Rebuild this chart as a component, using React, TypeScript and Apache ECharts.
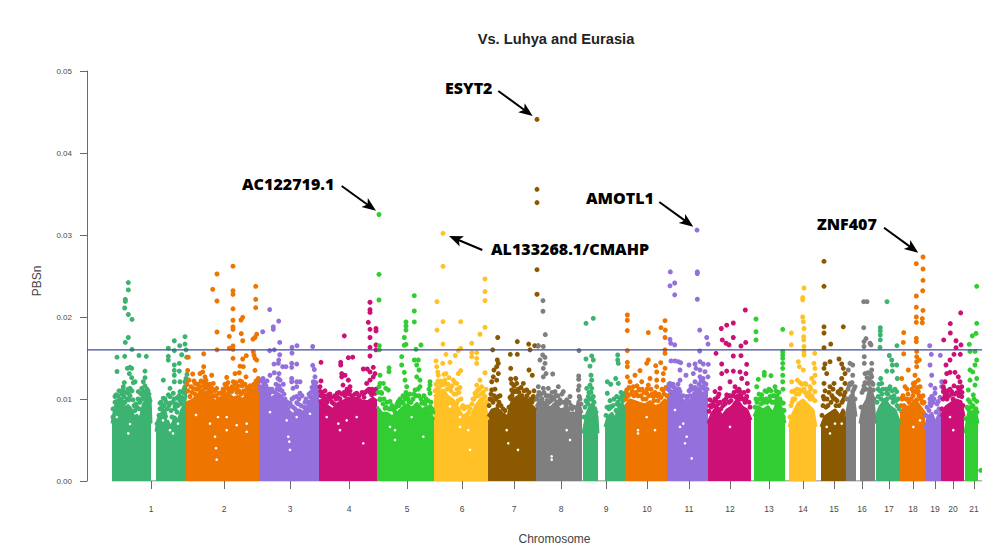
import React, { useEffect, useRef } from "react";
import * as echarts from "echarts";

// x = cumulative genome position (axis units), y = PBSn x 10^4.
type P = [number, number];

const chromosomeLabels = ["1","2","3","4","5","6","7","8","9","10","11","12","13","14","15","16","17","18","19","20","21"];
const chromosomeTicks = [151,224,290,349,407,462,514,561,606,647,689,730,769,803,834,862,889,913,935,953,974];
const threshold = 0.016;
const seagreen = "#3CB371", orange = "#EE7600", purple = "#9370DB", pink = "#CD1076", lime = "#32CD32", gold = "#FFC125", brown = "#8B5A00", gray = "#7F7F7F";

const chr1aMass: P[] = [[112,70],[115,90],[118,99],[122,100],[125,88],[128,92],[131,88],[134,78],[137,80],[140,75],[143,92],[146,100],[148,105],[150,102],[151,70]];
const chr1bMass: P[] = [[156,60],[158,75],[161,82],[165,85],[168,72],[171,65],[175,78],[178,72],[181,85],[184,92],[186,105]];
const chr1Dots: P[] = [[128.3,242],[128.3,233],[125.3,221.5],[125.3,219],[124.7,211],[128.3,203],[132,197],[128.3,175],[125.3,169],[132,160.5],[117,151],[124.7,152],[139,153],[146.3,152],[117,133.5],[130,138.6],[127.3,137.4],[131.7,137.4],[129.3,131],[131.7,126],[145,134],[145,126],[143.3,121],[133.3,120],[124.3,120],[123.3,115],[141.7,113],[138.3,109],[121.7,109],[115,103],[128.3,107],[135,121],[146,107],[116.7,97],[130,113],
[174.3,171],[168.3,162],[179.7,165],[185,176],[185,167],[174.3,159],[186,160],[181.7,154],[168.3,152],[168.3,147.5],[174.3,141.5],[179.3,143.5],[186.7,151],[174.3,135],[179.3,134],[174.3,129],[163.3,123],[174.3,121],[180,121],[185,121],[185,115],[170,113],[180,109],[173.3,107],[168.3,105],[185,107],[163.3,101],[176.7,101],[181.7,99],[160,95],[170,95],[175,91],
[113,78],[113,88],[115,96],[116,105],[118,104],[119,110],[120,100],[121,95],[122,106],[123,112],[124,103],[125,96],[126,108],[127,100],[128,112],[129,99],[130,104],[132,110],[133,99],[134,92],[135,86],[136,94],[137,90],[138,100],[139,88],[140,96],[141,106],[142,100],[143,110],[144,104],[145,116],[146,100],[147,112],[148,110],[149,106],[150,98],
[157,70],[159,80],[160,88],[161,96],[162,90],[163,86],[164,92],[165,100],[166,96],[167,88],[169,92],[170,103],[171,86],[172,78],[173,96],[174,100],[175,88],[176,94],[177,84],[178,92],[179,104],[180,98],[181,94],[182,102],[183,108],[184,112],[185,112],[186,125],[187,130]];
const chr2Mass: P[] = [[186,95],[193,99],[198,105],[203,107],[208,109],[213,99],[218,95],[223,105],[228,107],[233,101],[238,103],[243,99],[248,107],[253,109],[258,111],[259,110]];
const chr2Dots: P[] = [[217,252.4],[233,262],[212.7,233.7],[233,232],[233,227.6],[255.7,237.4],[217,219.5],[255.7,221.5],[255.7,211.4],[233,210],[242.7,199.6],[241,196.3],[233,196],[233,188],[233,185],[217,181.7],[241.3,179.7],[229.3,176.4],[256.7,179],[255,175],[253,173],[242.7,171],[233,164.6],[229.3,162],[233,160.5],[217,160],[253.3,157.7],[254,153.6],[203.7,155],[246.3,152.8],[233,149.6],[242.7,148.8],[255,149.6],[256.7,147.5],[188.3,151],[240,140],[243.3,139.4],[203.7,139.4],[255,135],[235,131],[239.3,132],[202.7,133],[187.7,135],[192.7,130.5],[200,131],[211.7,129],[246,127],[205,127],[226.7,126.4],[258.3,125],[233.3,121],[241.7,121],[195,119],[203.3,121],[213.3,119],[226,116],[253.3,117],[236.7,113],[208.3,115],[193.3,113],[216.7,113],[248.3,111],[258.3,115],[221.7,107],[231.7,109],[243.3,109],[200,107],
[187,118],[188,110],[189,123],[190,103],[191,115],[192,108],[194,122],[195,106],[196,112],[197,118],[198,112],[199,118],[200,115],[201,122],[202,110],[204,116],[205,113],[206,123],[207,118],[209,112],[210,118],[211,108],[212,113],[214,104],[215,110],[216,104],[218,100],[219,107],[220,100],[222,108],[223,112],[224,110],[225,118],[227,114],[228,120],[229,110],[230,112],[232,115],[234,112],[235,118],[236,120],[237,108],[238,116],[239,110],[240,122],[241,106],[242,116],[244,110],[245,118],[246,105],[247,114],[249,108],[250,116],[251,112],[252,110],[254,118],[255,112],[256,122],[257,116],[258,120]];
const chr3Mass: P[] = [[259,109],[263,117],[267,111],[270,103],[273,95],[277,107],[280,105],[283,99],[287,82.5],[290,84.5],[293,80.5],[297,86.6],[300,86.6],[303,82.5],[307,90.6],[310,97],[313,103],[317,113],[319,107]];
const chr3Dots: P[] = [[269.7,209],[278.7,195],[273.3,188],[273.3,185],[262.7,182],[279.7,169],[292,163],[297,165],[312.7,164],[269.7,159],[274.3,160],[292,156],[279.7,154],[278.7,147.5],[274,142.6],[278.3,143.5],[282.7,139.4],[286,139.4],[291.7,143.5],[296.7,142.6],[291.7,138.6],[312.7,141],[314.3,136],[274.3,132],[270,129],[279,131],[315,127],[280,123],[291.7,125],[291.7,121],[296.7,121],[300,121],[313.3,121],[263.3,121],[265,117],[283.3,118],[296.7,115],[316,115],[293,113],[280,111],[300,107],[296.7,103],[313.3,109],[271.7,109],[290,95],[296.7,95.5],[310,103],
[260,115],[261,122],[262,112],[263,125],[264,120],[265,110],[266,116],[267,122],[268,112],[269,106],[270,112],[271,100],[272,112],[274,102],[275,108],[276,118],[277,112],[278,125],[279,116],[280,112],[281,102],[282,110],[284,106],[285,100],[286,92],[287,96],[288,88],[289,94],[291,92],[292,100],[293,90],[294,102],[295,88],[298,94],[299,100],[301,92],[302,104],[304,90],[305,96],[306,100],[308,96],[309,106],[311,108],[312,114],[314,118],[315,112],[316,120],[318,112]];
const chr4Mass: P[] = [[319,99],[323,95],[328,91],[333,87],[338,95],[343,97],[348,101],[353,99],[358,95],[363,97],[368,97],[373,101],[377,97]];
const chr4Dots: P[] = [[370,218],[370,209],[370,205.6],[368.3,193.5],[370,185],[376,186],[376,183],[344.3,177],[370,175],[370,163],[376,166],[376,160],[352.7,151],[348.3,150.4],[370,152.4],[321,144.7],[340.7,144.7],[340.7,141.5],[363.3,136.6],[367.3,136.6],[373.3,138.6],[370,133],[341.7,131],[345,129],[341.7,127],[375,131],[348.3,123],[321,122],[373.3,127],[370,123],[366.7,119],[350,115],[343,117],[320.7,109],[328.3,105],[337.3,107],[331.7,102],[346.7,109],[356.7,107],[363.3,106],[371.7,105],[375,107],[323.3,99],[350,99],
[320,115],[321,104],[322,108],[324,104],[325,110],[326,100],[327,96],[329,100],[330,106],[332,96],[334,94],[335,104],[336,100],[338,102],[339,108],[340,100],[342,106],[344,108],[345,104],[347,112],[349,106],[350,110],[352,104],[354,100],[355,106],[357,100],[359,104],[360,98],[362,108],[364,102],[365,108],[367,110],[369,112],[370,108],[372,112],[374,108],[376,112]];
const chr5Mass: P[] = [[377,90.6],[382,82.5],[387,82.5],[392,78.5],[397,82.5],[402,88.6],[407,92.7],[412,88.6],[417,94.7],[422,86.6],[427,90.6],[430,82.5],[434,74.4]];
const chr5Dots: P[] = [[379,325],[379,252],[379,220.7],[414.3,226],[414.3,207.3],[414.3,194],[406,194],[406,189],[406,184],[404.3,175],[406,166.7],[404.3,165.5],[421,165.9],[379.3,165],[379.3,160],[416,160.6],[401.7,151.6],[401.7,141.5],[414.3,147.6],[418.3,147.6],[416.7,141.5],[419,135.4],[389,138],[389,133.3],[404.3,132.5],[380,129],[416.7,127],[420,123],[405,123],[430,121],[383.3,119],[380,119],[430,117],[406.7,115],[385.7,113],[420,115],[415,111],[388.3,111],[381.7,107],[430,107],[407,103],[380,99],[398.3,97],[390,97],[421.7,95],[403.3,94.7],[393.3,87.4],[385,88.6],[430,90.6],
[378,108],[379,115],[380,100],[381,108],[383,94],[384,100],[386,90],[387,96],[389,88],[391,88],[392,92],[394,88],[395,84],[396,90],[397,94],[399,92],[400,100],[402,96],[403,104],[405,100],[406,108],[408,100],[409,96],[410,106],[411,96],[413,100],[414,106],[416,104],[418,112],[419,104],[421,100],[423,96],[424,104],[425,94],[426,100],[428,98],[429,112],[431,96],[432,88],[433,84]];
const chr6Mass: P[] = [[434,103],[438,107],[443,111],[448,103],[453,99],[458,88.6],[463,78.5],[467,82.5],[470,74.4],[475,90.6],[480,99],[485,92.7],[488,74.4]];
const chr6Dots: P[] = [[443,302],[443,261.8],[485,246.4],[485,231],[485,220],[437,218.7],[443,194.3],[460.7,194.3],[485,187.4],[437,184],[480,179],[443,167],[471.7,168],[460.7,161.8],[458.3,159],[471.7,156.5],[476.7,156.5],[446,154.5],[455.3,153],[471.7,151.6],[476.7,149.6],[436,146.4],[450,144.7],[442.7,143.5],[476.7,143.5],[436.7,139.4],[437.7,133],[460.7,134.6],[485,132],[458.3,131],[446,131],[438.3,129],[480,123],[453.3,123],[445,123],[456.7,119],[441.7,117],[476.7,117],[460,114],[438.3,111],[450,113],[481.7,115],[485,103],[475,107],[468.3,90.6],[456.7,94.7],
[435,110],[436,118],[437,112],[438,122],[439,114],[440,120],[441,122],[443,118],[444,130],[445,118],[447,112],[448,118],[449,126],[451,110],[452,116],[454,106],[455,120],[456,106],[457,112],[458,98],[459,108],[461,100],[462,90],[463,92],[464,88],[466,90],[469,84],[470,88],[472,94],[473,100],[474,100],[476,104],[477,110],[478,104],[479,112],[481,106],[482,100],[483,108],[484,100],[486,112],[487,96]];
const chr7Mass: P[] = [[488,78.5],[492,86.6],[497,88.6],[502,82.5],[507,70],[510,90.6],[513,99],[518,103],[523,99],[528,92.7],[533,90.6],[536,86.6]];
const chr7Dots: P[] = [[537,441],[537,355.7],[537,339.5],[537,257.7],[537,227.7],[497.7,175],[517.3,170],[528.7,167],[534.7,165],[538,164.6],[492.7,160],[530,160],[497.3,147.6],[498.3,143.5],[510.3,154.5],[517.3,154.5],[496.7,139.4],[494,135.4],[510.7,137.4],[529,135.4],[498.3,131],[493.3,127],[510.7,124.4],[515.7,125],[532.3,129],[491.7,121],[496.7,123],[511.7,119],[516.7,119],[523.3,119],[491.7,111],[498.3,103],[516.7,109],[526.7,111],[520,103],[533.3,103],[491.7,99],[511.7,111],[530,95],
[489,92],[490,100],[491,106],[493,96],[494,104],[495,112],[496,100],[498,92],[499,96],[500,104],[501,92],[503,88],[504,80],[505,86],[506,78],[508,76],[509,90],[510,102],[511,100],[512,104],[513,108],[514,116],[515,110],[517,100],[518,112],[519,108],[521,114],[522,104],[524,110],[525,100],[527,104],[528,98],[529,108],[531,100],[532,96],[534,110],[535,100]];
const chr8Mass: P[] = [[536,90.6],[540,99],[545,94.7],[550,88.6],[555,94.7],[560,86.6],[565,88.6],[570,82.5],[575,74.4],[578,96.8],[582,82.5]];
const chr8Dots: P[] = [[543,220],[543,207],[545.3,178.5],[538.3,165],[543.3,164],[542.7,153.7],[545,150.8],[540,147.6],[545,143.5],[543.3,137.4],[546,131],[552.7,130.5],[543.3,127],[578.7,128],[578.7,124],[538.3,115],[543.3,113],[548.3,113],[558.3,115],[555,109],[563.3,109],[570,103],[578.3,111],[540,105],[550,103],[566.7,99],[579.3,103],[560,99],[579,159],
[537,100],[538,104],[539,108],[541,106],[542,100],[544,108],[546,104],[547,98],[548,104],[549,96],[551,98],[552,108],[553,102],[554,100],[556,104],[557,96],[558,104],[559,94],[561,96],[562,106],[564,96],[566,92],[567,96],[568,88],[569,96],[571,92],[572,88],[573,82],[574,90],[576,80],[577,88],[579,116],[580,100],[581,94]];
const chr9aMass: P[] = [[583,58],[587,82.5],[590,90.6],[593,94.7],[597,78.5],[598,58]];
const chr9bMass: P[] = [[605,66],[608,78.5],[612,82.5],[615,74.4],[618,86.6],[622,94.7],[625,86.6]];
const chr9Dots: P[] = [[593.3,198.4],[586,192.3],[591.7,152.5],[593.3,147.6],[586,148.8],[590,140],[591,129],[591.7,123],[590,117],[586.7,113],[591.7,113],[588.3,103],[593.3,103],[617.7,153.7],[617.7,147.6],[618.3,143.5],[615.7,125],[607.3,121],[610.7,118],[618.3,119],[625,107],[607.3,107],[616.7,103],[621.7,103],[610,90.6],
[584,78],[585,90],[586,98],[587,96],[588,94],[589,108],[590,100],[591,108],[592,100],[594,96],[595,88],[596,84],[606,80],[607,90],[609,88],[610,98],[611,90],[613,92],[614,100],[616,86],[617,94],[618,96],[619,92],[620,100],[621,108],[623,98],[624,104]];
const chr10Mass: P[] = [[625,90.6],[630,99],[635,96.8],[640,94.7],[645,92.7],[650,96.8],[655,90.6],[660,92.7],[665,99],[668,94.7]];
const chr10Dots: P[] = [[627.3,202.4],[627.3,196],[627.3,183.4],[648.3,181],[661,187],[665,195.5],[665.3,184],[665,175],[627.3,159],[665,160],[665,155.7],[648.3,147.6],[627.3,144.7],[627.3,139.4],[655.7,140.6],[646.7,143.5],[660.7,144.3],[665,137.4],[656.7,133],[640,134.6],[663.3,131],[627.3,127],[650,125],[635,129],[656.7,123],[663.3,123],[630,121],[641.7,121],[648.3,117],[633.3,115],[656.7,115],[640,111],[663.3,111],[646.7,107],[626.7,111],[653.3,103],
[626,100],[627,106],[628,104],[629,114],[631,106],[632,110],[634,104],[636,108],[637,116],[638,104],[639,112],[641,104],[642,112],[643,100],[644,108],[646,100],[647,112],[649,104],[651,112],[652,106],[654,98],[655,108],[657,104],[658,98],[659,106],[661,102],[662,112],[664,106],[666,114],[667,104]];
const chr11Mass: P[] = [[667,103],[672,109],[677,109],[682,99],[685,78.5],[688,95],[692,101],[697,105],[702,107],[708,109]];
const chr11Dots: P[] = [[697,306],[670.3,255],[697.3,255],[697.3,253],[674.7,241.5],[670,238],[674.7,227],[697.3,221.6],[699.7,184],[670,172.8],[706.7,175],[670.7,168],[674.7,166],[708,167],[699.7,158.5],[671,146.4],[675,146.4],[678.3,145.5],[680.7,144.3],[689,141.5],[695,142.7],[700,145.5],[703.3,142.7],[708.3,142.3],[680,135.4],[696,137.4],[700,135.4],[705,133.3],[686,129],[693.3,131],[680,123],[700,127],[703,125],[708,127],[670,119],[695,121],[701.7,115],[690,111],[686.7,103],[680,109],[683,97],
[668,112],[669,118],[670,110],[671,116],[673,118],[674,114],[675,106],[676,112],[678,118],[679,112],[681,104],[683,104],[684,88],[685,96],[686,92],[687,100],[689,110],[690,104],[691,116],[693,112],[694,106],[695,114],[696,108],[698,112],[699,118],[700,110],[701,122],[703,114],[704,120],[705,112],[706,118],[707,112]];
const chr12Mass: P[] = [[708,70],[712,82.5],[717,90.6],[722,78.5],[727,86.6],[732,90.6],[737,98.8],[742,90.6],[747,86.6],[751,74.4]];
const chr12Dots: P[] = [[745.3,208.5],[733.3,192.7],[726.7,190],[721.3,186],[733.3,175],[722.3,172],[745.7,169],[726,168],[729,166],[741,164.6],[716,155.7],[733.3,152.4],[741,152.8],[721.7,142.7],[746.7,142.3],[726.7,134],[733.3,134],[721.7,131],[740,133],[746,131],[730,121],[741.7,125],[747.3,119],[720,113],[735,115],[740,109],[715,109],[726.7,105],[746.7,103],[710,99],[718,103],
[709,85],[710,92],[711,90],[713,96],[714,92],[715,100],[716,98],[718,94],[719,106],[720,96],[721,88],[723,92],[724,98],[725,94],[726,100],[728,104],[729,96],[730,104],[731,98],[733,104],[734,108],[736,102],[737,110],[738,104],[739,112],[740,100],[741,104],[743,100],[744,108],[745,96],[746,100],[748,110],[749,96],[750,90]];
const chr13Mass: P[] = [[754,78.5],[758,90.6],[763,86.6],[768,90.6],[773,82.5],[778,99],[782,86.6],[785,70.3]];
const chr13Dots: P[] = [[756,197.6],[756,182],[756,172],[782.7,185],[782.7,158],[782.7,153.7],[782.7,149.6],[782.7,143.5],[782.7,137.4],[782.7,129],[764.3,132.5],[771,128.5],[758.3,124],[764.3,129],[782.7,121],[766.7,109],[775,115],[756.7,115],[761.7,105],[770,103],[776.7,99],[783.3,95],[783.3,78],[763,99],
[755,90],[756,100],[757,96],[759,106],[760,100],[761,94],[762,100],[764,96],[765,110],[766,100],[767,96],[769,112],[770,98],[771,110],[772,96],[773,104],[774,96],[775,104],[776,110],[777,104],[779,108],[780,100],[781,96],[783,112],[784,86]];
const chr14Mass: P[] = [[789,66],[793,82.5],[798,94.7],[803,98.8],[808,92.7],[813,86.6],[816,66]];
const chr14Dots: P[] = [[804,235.4],[802.7,223.6],[802.7,221],[802.7,200],[803.3,194.3],[804,186],[791.3,180.5],[803.7,176],[803.7,172],[791.3,166],[804,164],[804,158],[804,153.7],[814.7,155.7],[798.3,145.5],[814,143.5],[799.3,139.4],[803.3,135.4],[815,137.4],[815,129],[811.7,125],[791.7,121],[797.3,123],[805,119],[810,115],[791.7,109],[800,111],[815,109],[808.3,103],[793.3,99],
[790,78],[791,92],[792,96],[793,100],[794,110],[795,100],[796,106],[797,112],[799,106],[800,120],[801,110],[802,118],[804,112],[805,108],[806,118],[807,104],[809,108],[810,100],[811,112],[812,104],[813,100],[814,120],[815,98]];
const chr15Mass: P[] = [[821,66],[825,78.5],[830,82.5],[835,86.6],[840,78.5],[843,86.6],[846,78.5]];
const chr15Dots: P[] = [[824,267.9],[824,237.4],[824,188],[843.3,188],[824,180.5],[830.7,167],[824,162.6],[830,145.5],[825,142.7],[839,148.8],[841.7,142.7],[824,137.4],[843.3,137.4],[845,131],[826.7,131],[834,119],[841.7,125],[824,119],[830,115],[838.3,109],[845,119],[823.3,103],[833.3,101],[843.3,99],
[822,80],[823,92],[824,100],[825,110],[826,90],[827,100],[828,92],[829,108],[831,96],[832,104],[833,112],[835,100],[836,92],[837,98],[838,108],[839,92],[840,106],[841,112],[842,96],[844,104],[845,108]];
const chr16aMass: P[] = [[846,78.5],[850,103],[853,107],[856,78.5]];
const chr16bMass: P[] = [[860,70],[863,90.6],[867,99],[870,115],[873,103],[875,70]];
const chr16Dots: P[] = [[863.7,218.7],[867,218.7],[863.7,187],[866,173.6],[864,170],[870,168],[864,164],[871,166],[864.3,151.6],[871.7,143.5],[864.3,143.5],[871.7,135.4],[871.7,127],[850,143.5],[852.7,141.5],[848.3,135.4],[852.7,129],[850,119],[855,115],[852.7,109],[865,131],[868.3,119],[873.3,111],[863.3,111],
[847,100],[848,112],[849,116],[851,118],[852,120],[854,112],[855,100],[861,90],[862,108],[864,116],[865,120],[866,112],[867,126],[868,132],[869,124],[871,130],[872,120],[873,118],[874,100]];
const chr17Mass: P[] = [[876,78.5],[880,90.6],[885,98.8],[890,90.6],[895,86.6],[900,70]];
const chr17Dots: P[] = [[887,218.7],[880.3,187],[880.3,183],[880.3,178],[880.3,172],[880,163],[897,165],[889.3,153],[891.7,147.6],[892.3,141.5],[896.7,141.5],[886.7,134],[892.3,134],[897.3,125],[880.7,125],[881.7,119],[890,115],[886.7,107],[896.7,109],[878.3,103],[893.3,101],
[877,96],[878,112],[879,118],[880,110],[881,100],[882,106],[883,112],[884,98],[886,112],[887,100],[888,106],[889,112],[891,102],[892,110],[893,96],[894,104],[895,112],[896,98],[897,92],[898,100],[899,88]];
const chr18Mass: P[] = [[900,82.5],[905,90.6],[910,90.6],[915,98.8],[920,90.6],[925,82.5]];
const chr18Dots: P[] = [[923,273.2],[916.3,265],[923,258.5],[923,244.7],[922.7,232],[916.3,225.6],[916.3,212],[923,208],[916.3,200],[922.3,198],[916.3,193.5],[922.3,193],[903.7,181],[916.3,174],[916.3,170],[903.3,169],[916.7,158],[916.7,151.6],[903.7,155],[916.7,145.5],[919.3,147.6],[916.7,139.4],[908.3,135.4],[915,129],[901.7,125],[918.3,123],[913.3,119],[920,115],[916.7,111],[913.3,109],[918.3,109],[905,115],[901.7,101],[908.3,99],[923.3,95],[916.7,99],
[901,92],[902,100],[903,104],[904,92],[906,100],[907,112],[908,106],[909,96],[911,100],[912,112],[913,104],[914,116],[915,120],[917,108],[918,114],[919,104],[921,100],[922,96],[923,104],[924,96]];
const chr19Mass: P[] = [[925,62],[928,78.5],[932,82.5],[935,70],[938,78.5],[941,86.6]];
const chr19Dots: P[] = [[929.7,165],[931.3,154.5],[940.3,153.3],[930,141.5],[931.7,129],[930.7,117],[935,113],[935,107],[931.7,103],[941.7,121],[941.7,115],[938.3,97],[930,95],
[926,80],[927,90],[929,86],[930,100],[931,92],[933,96],[934,100],[936,84],[937,94],[939,88],[940,102]];
const chr20Mass: P[] = [[941,78.5],[946,90.6],[951,94.7],[956,98.8],[961,96.8],[964,78.5]];
const chr20Dots: P[] = [[960.7,205],[950.3,192],[950.3,180.5],[943.7,172],[956,171],[961,166],[956,162.6],[954,154.5],[960.3,154.5],[950,147.6],[946,141.5],[946.7,131],[950,132.5],[955,132.5],[958.3,127],[960,121],[945,121],[943.3,115],[961.7,115],[951.7,109],[946.7,107],[960,109],[943.3,109],[961.7,103],
[942,88],[943,100],[944,112],[945,104],[947,100],[948,110],[949,104],[950,112],[952,106],[953,100],[954,116],[955,106],[957,108],[958,114],[959,104],[960,112],[962,108],[963,92]];
const chr21Mass: P[] = [[965,58],[969,86.6],[972,82.5],[975,88.6],[978,70]];
const chr21Dots: P[] = [[976.7,237.4],[976.7,192.3],[976,180],[972.3,177],[969.3,166.7],[970,158],[975,158],[976.7,147.6],[975,141.5],[970,135.4],[972.7,133],[976.7,125],[970,123],[975,117],[968.3,111],[973.3,105],[968.3,99],[976.7,97],[980.7,13],
[966,76],[967,90],[968,88],[970,96],[971,90],[973,92],[974,100],[976,88],[977,84]];
// White specks seen inside the solid masses.
const massGaps: P[] = [[130,69.5],[128.3,58],[116.7,78],[168.3,76],[170,62],[173,58],[178,70],[163,74],[178.3,84.5],[196,80.5],[215,54],[216,40],[216.7,26],[226.7,62],[236.7,68],[246.7,70],[246.7,60],[210,70],[218,78],[226.7,78],[288.3,54],[289.3,48],[286.7,74],[270,84],[296.7,78],[290,38],[310,82],[338.3,70],[340,62],[356.7,78],[326.7,78],[363.3,46],[346.7,74],[395,50],[395,62],[423.3,54],[411.7,78],[390,66],[470,38],[460,66],[468.3,62],[460,78],[450,91],[508.3,46],[506.7,62],[518,38],[551.7,26],[551.7,30],[570,50],[566.7,62],[638,62],[638,58],[655,62],[646.7,78],[685,46],[686.7,54],[691.7,27.6],[680,66],[675,86.6],[683.3,70],[830,58],[835,70],[826.7,66],[841.7,70],[913.3,66],[920,74],[953.3,62],[950,78],[730,66]];

const masses: [string, P[]][] = [
  [seagreen, chr1aMass],[seagreen, chr1bMass],[orange, chr2Mass],[purple, chr3Mass],[pink, chr4Mass],[lime, chr5Mass],[gold, chr6Mass],[brown, chr7Mass],[gray, chr8Mass],[seagreen, chr9aMass],[seagreen, chr9bMass],[orange, chr10Mass],[purple, chr11Mass],[pink, chr12Mass],[lime, chr13Mass],[gold, chr14Mass],[brown, chr15Mass],[gray, chr16aMass],[gray, chr16bMass],[seagreen, chr17Mass],[orange, chr18Mass],[purple, chr19Mass],[pink, chr20Mass],[lime, chr21Mass],
];
const dots: [string, P[]][] = [
  [seagreen, chr1Dots],[orange, chr2Dots],[purple, chr3Dots],[pink, chr4Dots],[lime, chr5Dots],[gold, chr6Dots],[brown, chr7Dots],[gray, chr8Dots],[seagreen, chr9Dots],[orange, chr10Dots],[purple, chr11Dots],[pink, chr12Dots],[lime, chr13Dots],[gold, chr14Dots],[brown, chr15Dots],[gray, chr16Dots],[seagreen, chr17Dots],[orange, chr18Dots],[purple, chr19Dots],[pink, chr20Dots],[lime, chr21Dots],
];

const annotations: { text: string; left: number; y: number; from: P; tip: P }[] = [
  { text: "ESYT2", left: 445, y: 88, from: [498.3, 91], tip: [532.7, 116] },
  { text: "AC122719.1", left: 242, y: 184, from: [341.7, 186], tip: [376, 210.7] },
  { text: "AMOTL1", left: 586, y: 198, from: [659.3, 202], tip: [693.3, 226.7] },
  { text: "AL133268.1/CMAHP", left: 491, y: 249, from: [482.3, 250], tip: [449, 236] },
  { text: "ZNF407", left: 817, y: 224, from: [884, 227.7], tip: [918.3, 252.7] },
];

const toPbs = (p: P[]) => p.map(([x, v]) => [x, v * 1e-4]);
const AXIS_COLOR = "#6a6a6a";
const LABEL_COLOR = "#4a4a4a";

function arrow(from: P, tip: P) {
  const dx = tip[0] - from[0], dy = tip[1] - from[1];
  const len = Math.hypot(dx, dy), ux = dx / len, uy = dy / len;
  const pt = (along: number, side: number) => [tip[0] - ux * along - uy * side, tip[1] - uy * along + ux * side];
  return [
    { type: "line", shape: { x1: from[0], y1: from[1], x2: pt(9, 0)[0], y2: pt(9, 0)[1] }, style: { stroke: "#000", lineWidth: 2 } },
    { type: "polygon", shape: { points: [tip, pt(14, 5.5), pt(10.5, 0), pt(14, -5.5)] }, style: { fill: "#000" } },
  ];
}

export default function App() {
  const ref = useRef<HTMLDivElement>(null);
  useEffect(() => {
    const chart = echarts.init(ref.current!, undefined, { renderer: "svg" });
    chart.setOption({
      animation: false,
      title: {
        text: "Vs. Luhya and Eurasia",
        left: 551, top: 26, textAlign: "center",
        textStyle: { fontFamily: "Liberation Sans", fontSize: 14.7, fontWeight: "bold", color: "#222" },
      },
      grid: { left: 87, right: 0, top: 71, bottom: 67, outerBoundsMode: "none" },
      xAxis: {
        type: "value", min: 87, max: 982, splitLine: { show: false },
        axisLine: { show: false },
        axisTick: { show: true, length: 8, customValues: chromosomeTicks, lineStyle: { color: AXIS_COLOR } },
        axisLabel: {
          customValues: chromosomeTicks, margin: 23, fontSize: 8.5, color: LABEL_COLOR, fontFamily: "Liberation Sans",
          formatter: (v: number) => chromosomeLabels[chromosomeTicks.indexOf(v)] ?? "",
        },
        name: "Chromosome", nameLocation: "middle", nameGap: 52,
        nameTextStyle: { fontFamily: "Liberation Sans", fontSize: 12, color: "#444", padding: [0, 0, 0, 40] },
      },
      yAxis: {
        type: "value", min: 0, max: 0.05, interval: 0.01, splitLine: { show: false },
        axisLine: { show: true, lineStyle: { color: AXIS_COLOR } },
        axisTick: { show: true, length: 7, lineStyle: { color: AXIS_COLOR } },
        axisLabel: { margin: 15, fontSize: 8, color: LABEL_COLOR, fontFamily: "Liberation Sans", formatter: (v: number) => v.toFixed(2) },
        name: "PBSn", nameLocation: "middle", nameGap: 44,
        nameTextStyle: { fontFamily: "Liberation Sans", fontSize: 12, color: "#444", padding: [0, 10, 0, 0] },
      },
      series: [
        {
          type: "line", silent: true, showSymbol: false, z: 1,
          data: [[112, 0], [982, 0]], lineStyle: { color: AXIS_COLOR, width: 1 },
        },
        ...masses.map(([color, data]) => ({
          type: "line", silent: true, showSymbol: false, z: 2, data: toPbs(data),
          lineStyle: { color, width: 3, join: "round" }, areaStyle: { color, opacity: 1 },
        })),
        { type: "scatter", silent: true, z: 2, zlevel: 0, data: toPbs(massGaps), symbolSize: 2.6, itemStyle: { color: "#fff", opacity: 1 } },
        ...dots.map(([color, data]) => ({
          type: "scatter", silent: true, z: 3, data: toPbs(data), symbolSize: 5, itemStyle: { color, opacity: 1 },
        })),
        {
          type: "line", silent: true, showSymbol: false, z: 4,
          data: [[87, threshold], [982, threshold]], lineStyle: { color: "#3F4B9B", width: 1.2 },
        },
      ],
      graphic: annotations.flatMap((a) => [
        ...arrow(a.from, a.tip),
        {
          type: "text", x: a.left, y: a.y,
          style: { text: a.text, fontFamily: "Open Sans", fontWeight: 800, fontSize: 16, fill: "#000", textVerticalAlign: "middle" },
        },
      ]),
    });
    return () => chart.dispose();
  }, []);
  return <div ref={ref} style={{ position: "fixed", left: 0, top: 0, width: 982, height: 548, background: "#fff" }} />;
}
